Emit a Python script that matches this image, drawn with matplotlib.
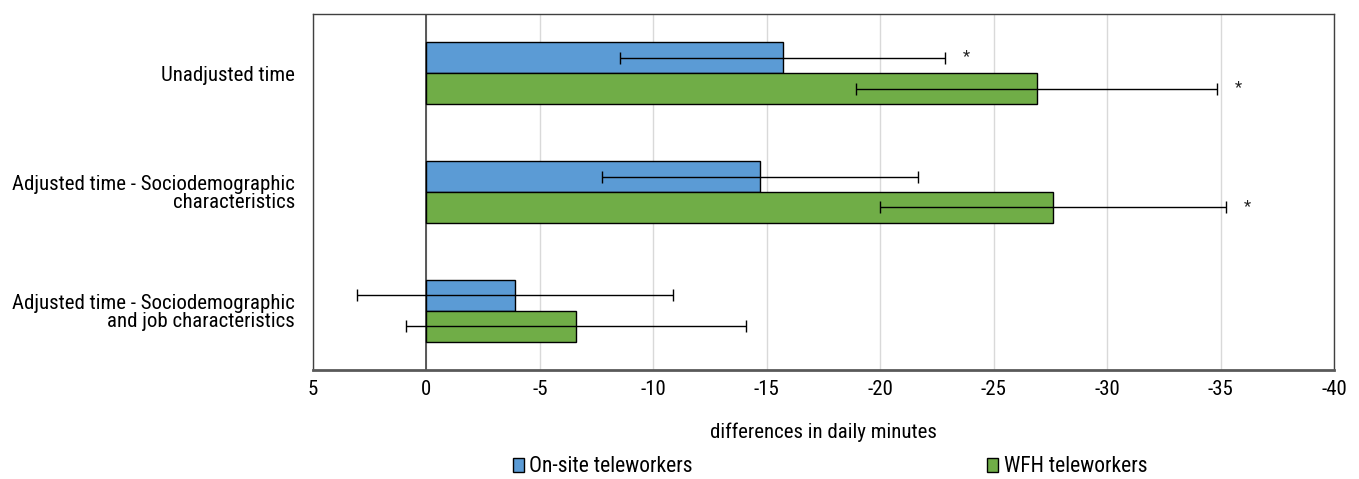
import numpy as np
import matplotlib
matplotlib.use("Agg")
import matplotlib.pyplot as plt
from matplotlib import font_manager

# Difference in daily minutes vs. non-teleworkers, with confidence interval half-widths
categories = ["Unadjusted time",
              "Adjusted time - Sociodemographic\ncharacteristics",
              "Adjusted time - Sociodemographic\nand job characteristics"]
onsite = [-15.7, -14.7, -3.9]
onsite_err = [7.15, 6.97, 6.98]
wfh = [-26.9, -27.6, -6.6]
wfh_err = [7.95, 7.63, 7.48]
onsite_sig = [True, False, False]
wfh_sig = [True, True, False]
xticks = [5, 0, -5, -10, -15, -20, -25, -30, -35, -40]

# narrow sans for all labels, first one available
names = {f.name for f in font_manager.fontManager.ttflist}
narrow = ["Roboto Condensed", "Arial Narrow", "Liberation Sans Narrow", "Archivo Narrow",
          "PT Sans Narrow", "Fira Sans Condensed", "IBM Plex Sans Condensed",
          "Encode Sans Condensed", "Asap Condensed", "Sofia Sans Condensed",
          "Open Sans Condensed", "Barlow Semi Condensed"]
family = next((n for n in narrow if n in names), "DejaVu Sans")
plt.rcParams["font.family"] = [family, "DejaVu Sans"]
FS = 15

BLUE = "#5B9BD5"
GREEN = "#70AD47"

fig = plt.figure(figsize=(13.59, 4.79), dpi=100)
ax = fig.add_axes([313 / 1359, 1 - 370 / 479, (1334 - 313) / 1359, (370 - 14) / 479])

y = np.arange(len(categories))
h = 0.26
err_kw = dict(ecolor="black", elinewidth=1.0, capsize=4.5, capthick=1.0)
ax.barh(y - h / 2, onsite, height=h, color=BLUE, edgecolor="black", linewidth=1.0,
        xerr=onsite_err, error_kw=err_kw, zorder=3)
ax.barh(y + h / 2, wfh, height=h, color=GREEN, edgecolor="black", linewidth=1.0,
        xerr=wfh_err, error_kw=err_kw, zorder=3)

# significance markers just beyond the error bar
for i in range(len(categories)):
    if onsite_sig[i]:
        ax.text(onsite[i] - onsite_err[i] - 0.95, y[i] - h / 2 - 0.01, "*", ha="center",
                va="center", fontsize=12, color="#222222")
    if wfh_sig[i]:
        ax.text(wfh[i] - wfh_err[i] - 0.95, y[i] + h / 2 - 0.01, "*", ha="center",
                va="center", fontsize=12, color="#222222")

ax.set_xlim(5, -40)
ax.set_ylim(len(categories) - 0.5, -0.5)
ax.set_xticks(xticks)
ax.set_xticklabels([str(t) for t in xticks])
ax.set_yticks(y)
ax.set_yticklabels(categories, ha="right", linespacing=0.95)
ax.tick_params(axis="both", length=0, labelsize=FS)
ax.tick_params(axis="x", pad=7)
ax.tick_params(axis="y", pad=13)
ax.xaxis.grid(True, color="#d9d9d9", lw=1.0, zorder=0)
ax.axvline(0, color="#404040", lw=1.2, zorder=2)
for s in ax.spines.values():
    s.set_color("#404040")
    s.set_linewidth(1.0)
ax.spines["bottom"].set_color("#595959")
ax.spines["bottom"].set_linewidth(2.0)

ax.set_xlabel("differences in daily minutes", fontsize=FS, labelpad=17)

handles = [plt.Rectangle((0, 0), 1, 1, facecolor=BLUE, edgecolor="black", lw=1.0),
           plt.Rectangle((0, 0), 1, 1, facecolor=GREEN, edgecolor="black", lw=1.0)]
fig.legend(handles, ["On-site teleworkers", "WFH teleworkers"], ncol=2,
           loc="center", bbox_to_anchor=(830 / 1359, 1 - 467 / 479), frameon=False,
           handlelength=0.5, handleheight=0.6, handletextpad=0.25, columnspacing=13.7,
           fontsize=15.5, borderpad=0)

fig.savefig("out.png", dpi=100, facecolor="white")
